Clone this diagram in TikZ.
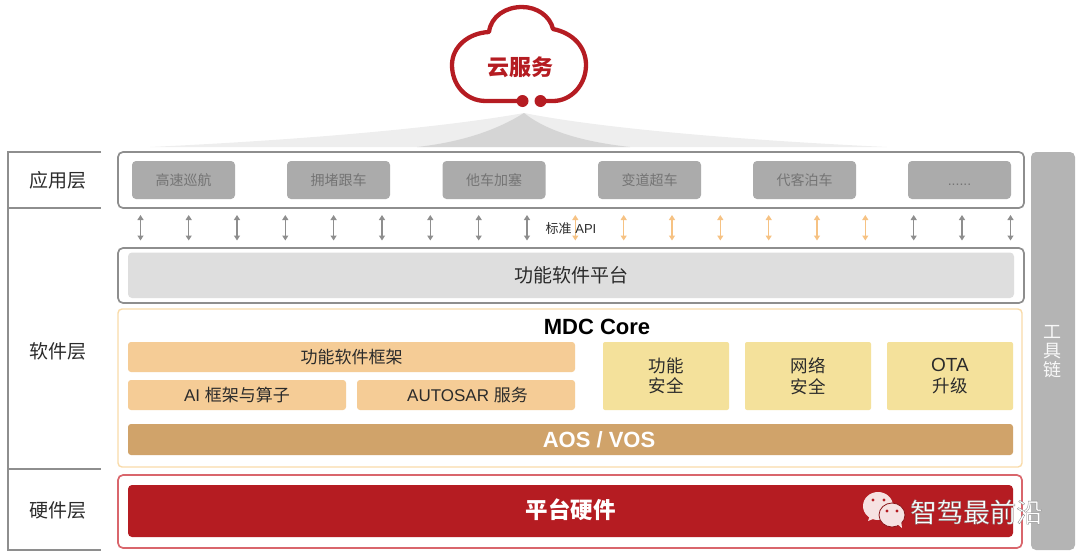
\documentclass[tikz,border=0pt]{standalone}
\usepackage{fontspec}
\setmainfont{Liberation Sans}
\newfontfamily\cj{Noto Sans CJK SC}
\usetikzlibrary{arrows.meta}
\definecolor{redc}{HTML}{B51C22}
\definecolor{outg}{HTML}{8E8E8E}
\definecolor{appg}{HTML}{ABABAB}
\definecolor{appt}{HTML}{747474}
\definecolor{platg}{HTML}{DEDEDE}
\definecolor{peach}{HTML}{F5CC96}
\definecolor{mdcline}{HTML}{F9DBA9}
\definecolor{sand}{HTML}{F4E19B}
\definecolor{aosc}{HTML}{D0A36A}
\definecolor{hwline}{HTML}{D9666C}
\definecolor{toolg}{HTML}{B4B4B4}
\definecolor{txt}{HTML}{2B2B2B}
\definecolor{arrg}{HTML}{8E8E8E}
\definecolor{arro}{HTML}{F6C283}
\definecolor{fanl}{HTML}{EEEEEE}
\definecolor{fand}{HTML}{D5D5D5}
\definecolor{wech}{HTML}{F6E2E2}
\newcommand{\fs}[1]{\fontsize{#1}{#1}\selectfont}
\newcommand{\mybox}[7]{%
  \pgfmathsetmacro{\cxa}{(#3+#5)/2}\pgfmathsetmacro{\cya}{(#4+#6)/2}%
  \pgfmathsetmacro{\wa}{#5-#3}\pgfmathsetmacro{\ha}{#6-#4}%
  \node[#2,minimum width=\wa pt,minimum height=\ha pt] (#1) at (\cxa,\cya) {#7};}
\tikzset{
  x=1pt,y=-1pt,
  every node/.style={inner sep=0pt,outer sep=0pt,align=center},
  outerbox/.style={draw=outg,line width=1.7pt,fill=white,rounded corners=5pt},
  appbox/.style={fill=appg,rounded corners=4pt,text=appt,font=\cj\fs{14}},
  platbox/.style={fill=platg,rounded corners=4pt,text=txt,font=\cj\fs{19}},
  mdcbox/.style={draw=mdcline,line width=1.4pt,fill=white,rounded corners=4pt},
  peachbox/.style={fill=peach,rounded corners=3pt,text=txt,font=\fs{17}},
  sandbox/.style={fill=sand,rounded corners=2pt,text=txt,font=\fs{17.5}},
  aosbox/.style={fill=aosc,rounded corners=3pt},
  hwouter/.style={draw=hwline,line width=1.7pt,fill=white,rounded corners=5pt},
  hwbox/.style={fill=redc,rounded corners=4pt},
  toolbox/.style={fill=toolg,rounded corners=5pt},
  layerlabel/.style={text=txt,font=\cj\fs{19}},
  frameline/.style={draw=outg,line width=1.4pt},
  grayarrow/.style={draw=arrg,line width=1.2pt,{Triangle[length=5pt,width=6pt]}-{Triangle[length=5pt,width=6pt]}},
  orangearrow/.style={draw=arro,line width=1.2pt,{Triangle[length=5pt,width=6pt]}-{Triangle[length=5pt,width=6pt]}},
  cloudline/.style={draw=redc,line width=4.3pt,line cap=round,line join=round},
}
\begin{document}
\begin{tikzpicture}
\useasboundingbox (0,0) rectangle (1080,560);
% fans
\fill[fanl] (524,113) .. controls (440,128) and (300,140) .. (150,147) -- (887,147) .. controls (760,141) and (610,130) .. (524,113) -- cycle;
\fill[fand] (524,113) .. controls (497,130) and (462,142) .. (417,147) -- (630,147) .. controls (585,142) and (548,132) .. (524,113) -- cycle;
% cloud
\draw[cloudline] (522,101) -- (486,101) .. controls (465,101) and (452,84) .. (452,65)
  .. controls (452,47) and (468,33) .. (489,32)
  .. controls (491,16) and (506,7) .. (522,7)
  .. controls (537,7) and (550,16) .. (553,29)
  .. controls (573,33) and (586,47) .. (586,65)
  .. controls (586,85) and (571,101) .. (553,101) -- (541,101);
\fill[redc] (522.5,101) circle[radius=6];
\fill[redc] (540.5,101) circle[radius=6];
\node[text=redc,font=\cj\bfseries\fs{22}] (cloud) at (520.5,67) {云服务};
% left frame
\coordinate (ftop) at (8,152);
\coordinate (fbot) at (8,550);
\coordinate (l1a) at (101,152);
\coordinate (l2s) at (8,208);
\coordinate (l2a) at (101,208);
\coordinate (l3s) at (8,469);
\coordinate (l3a) at (101,469);
\coordinate (l4a) at (101,550);
\draw[frameline] (l1a) -- (ftop) -- (fbot) -- (l4a);
\draw[frameline] (l2s) -- (l2a);
\draw[frameline] (l3s) -- (l3a);
\node[layerlabel] (lapp) at (58,180) {应用层};
\node[layerlabel] (lsoft) at (58,351) {软件层};
\node[layerlabel] (lhard) at (58,510) {硬件层};
% application layer
\mybox{appouter}{outerbox}{118}{152}{1024}{208}{}
\mybox{a1}{appbox}{132}{161}{235}{199}{高速巡航}
\mybox{a2}{appbox}{287}{161}{390}{199}{拥堵跟车}
\mybox{a3}{appbox}{442.5}{161}{545.5}{199}{他车加塞}
\mybox{a4}{appbox}{598}{161}{701}{199}{变道超车}
\mybox{a5}{appbox}{753}{161}{856}{199}{代客泊车}
\mybox{a6}{appbox}{908}{161}{1011}{199}{}
\node[text=appt,font=\fs{14}] (a6t) at (959.5,184.5) {......};
% arrows
\foreach \i/\xx/\sty in {1/140.5/grayarrow,2/188.7/grayarrow,3/237/grayarrow,4/285.3/grayarrow,5/333.6/grayarrow,6/382/grayarrow,7/430.3/grayarrow,8/478.7/grayarrow,9/527/grayarrow,10/575.3/orangearrow,11/623.7/orangearrow,12/672/orangearrow,13/720.3/orangearrow,14/768.7/orangearrow,15/817/orangearrow,16/865.3/orangearrow,17/913.7/grayarrow,18/962/grayarrow,19/1010.5/grayarrow}{
  \coordinate (u\i) at (\xx,215);
  \coordinate (d\i) at (\xx,240.5);
  \draw[\sty] (u\i) -- (d\i);
}
\node[text=txt,font=\fs{13}] (api) at (571,229) {{\cj 标准} API};
% platform
\mybox{platouter}{outerbox}{118}{248}{1024}{303}{}
\mybox{plat}{platbox}{128}{252.5}{1014}{298}{功能软件平台}
% MDC core
\mybox{mdc}{mdcbox}{118}{309}{1022}{467}{}
\node[text=black,font=\bfseries\fs{22}] (mdct) at (597,327) {MDC Core};
\mybox{p1}{peachbox}{128}{342}{575}{372}{\cj 功能软件框架}
\mybox{p2}{peachbox}{128}{380}{346}{410}{AI {\cj 框架与算子}}
\mybox{p3}{peachbox}{357}{380}{575}{410}{\hspace*{3pt}AUTOSAR {\cj 服务}}
\mybox{s1}{sandbox}{603}{342}{729}{410}{\cj 功能\\[3pt]\cj 安全}
\mybox{s2}{sandbox}{745}{342}{871}{410}{\cj 网络\\[3pt]\cj 安全}
\mybox{s3}{sandbox}{887}{342}{1013}{410}{{\fs{19}OTA}\\[3pt]\cj 升级}
\mybox{aos}{aosbox}{128}{424}{1013}{455}{}
\node[text=white,font=\bfseries\fs{22}] (aost) at (599,440) {AOS / VOS};
% hardware
\mybox{hwouter}{hwouter}{118}{475}{1022}{548}{}
\mybox{hw}{hwbox}{128}{485}{1013}{537}{}
\node[text=white,font=\cj\bfseries\fs{22.5}] (hwt) at (570.5,510) {平台硬件};
% toolchain
\mybox{tool}{toolbox}{1031}{152}{1075}{550}{}
\node[text=white!90!toolg,font=\cj\fs{18}] (toolt) at (1052.5,351.5) {工\\[1pt]具\\[1pt]链};
% wechat mark
\fill[wech] (878,506) ellipse[x radius=15,y radius=14];
\fill[wech] (870,515) -- (868,521) -- (878,517) -- cycle;
\draw[redc!75!black,line width=0.8pt,fill=wech] (892,515) ellipse[x radius=13,y radius=12];
\fill[wech] (896,523) -- (902,528) -- (901,520) -- cycle;
\fill[redc] (873,500) circle[radius=1.7];
\fill[redc] (884,500) circle[radius=1.7];
\fill[redc] (887,511) circle[radius=1.7];
\fill[redc] (897,511) circle[radius=1.7];
\node[text=white,font=\cj\fs{26.5}] (wmark) at (976.5,512) {\special{pdf:code 2 Tr 0.35 w 0.55 G}智驾最前沿\special{pdf:code 0 Tr 0 w}};
\end{tikzpicture}
\end{document}
